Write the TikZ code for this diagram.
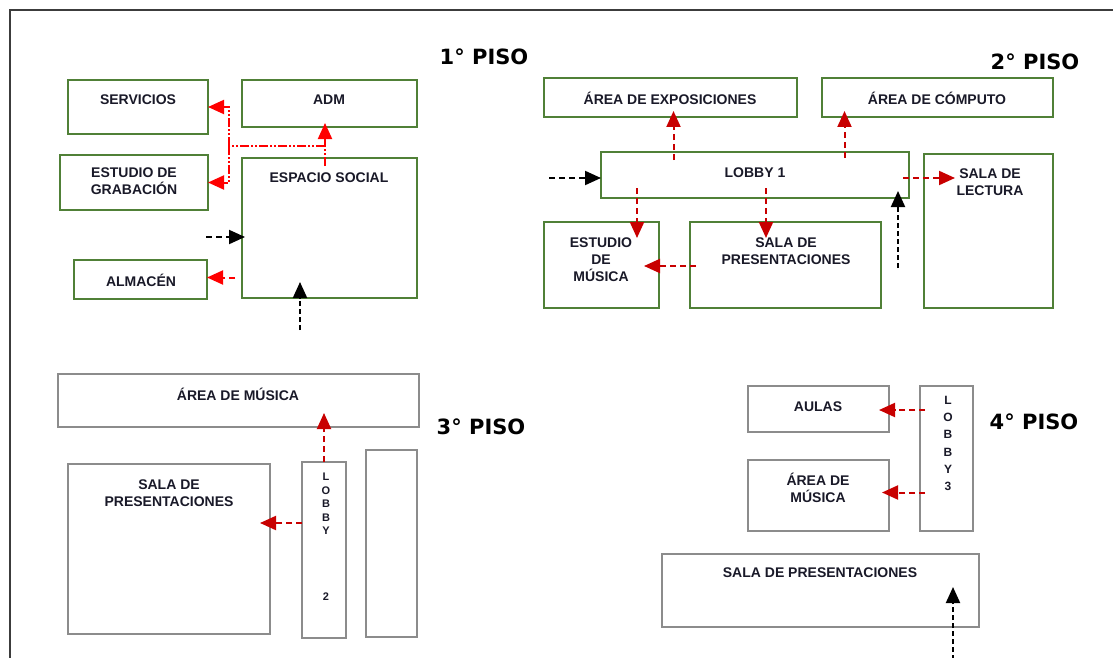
\documentclass[tikz,border=0pt]{standalone}
\usepackage{fontspec}
\setmainfont{Liberation Sans}
\newfontfamily\pisofont{DejaVu Sans}
\usetikzlibrary{arrows.meta,calc}
\definecolor{boxgreen}{RGB}{80,128,55}
\definecolor{boxgray}{RGB}{140,140,140}
\definecolor{arrred}{RGB}{255,0,0}
\definecolor{darkred}{RGB}{200,0,0}
\definecolor{framegray}{RGB}{60,60,60}
\definecolor{txt}{RGB}{25,25,40}
\begin{document}
\begin{tikzpicture}[x=1pt,y=-1pt,
  roomg/.style={draw=boxgreen,line width=1.8pt,inner sep=0pt,outer sep=0pt,anchor=north west},
  roomgr/.style={draw=boxgray,line width=1.8pt,inner sep=0pt,outer sep=0pt,anchor=north west},
  lbl/.style={font=\fontsize{14}{17}\selectfont\bfseries,align=center,inner sep=0pt,text=txt},
  piso/.style={font=\pisofont\fontsize{21}{25}\selectfont\bfseries,inner sep=0pt,text=black},
  lob/.style={font=\fontsize{11}{13.5}\selectfont\bfseries,align=center,inner sep=0pt,text=txt},
  lobb/.style={font=\fontsize{12}{17.2}\selectfont\bfseries,align=center,inner sep=0pt,text=txt},
  tip/.style={-{Triangle[length=16pt,width=14pt]}},
  rddline/.style={draw=arrred,line width=2pt,dash pattern=on 9pt off 2pt on 2pt off 2pt on 2pt off 2pt},
  rdd/.style={tip,rddline},
  rdb/.style={tip,draw=arrred,line width=2pt,dash pattern=on 6pt off 4pt},
  rd/.style={tip,draw=darkred,line width=2pt,dash pattern=on 6pt off 4pt},
  bk/.style={tip,draw=black,line width=2pt,dash pattern=on 6pt off 4pt},
  bkv/.style={tip,draw=black,line width=2pt,dash pattern=on 5pt off 3pt}
]
\useasboundingbox (0,0) rectangle (1113,658);
% frame
\draw[framegray,line width=2.5pt] (1125,10) -- (10,10) -- (10,670);

% ---------- 1 PISO ----------
\node[piso] (p1) at (484,57) {1° PISO};
\node[roomg,minimum width=140pt,minimum height=54pt] (serv) at (68,80) {};
\node[roomg,minimum width=175pt,minimum height=47pt] (adm) at (242,80) {};
\node[roomg,minimum width=148pt,minimum height=55pt] (grab) at (60,155) {};
\node[roomg,minimum width=175pt,minimum height=140pt] (social) at (242,158) {};
\node[roomg,minimum width=133pt,minimum height=39pt] (alm) at (74,260) {};
\node[lbl] (tserv) at (138,100) {SERVICIOS};
\node[lbl] (tadm) at (329,100) {ADM};
\node[lbl] (tgrab) at (134,181) {ESTUDIO DE\\GRABACIÓN};
\node[lbl] (tsocial) at (329,178) {ESPACIO SOCIAL};
\node[lbl] (talm) at (141,280) {ALMACÉN};

\coordinate (j1) at (325,146);
\coordinate (j2) at (229,146);
\draw[rdd] ($(j1 |- social.north)+(0,8)$) -- ($(j1 |- adm.south)+(0,-4)$);
\draw[rddline] (j1) -- (j2);
\draw[rdd] (j2) |- (serv.east);
\draw[rdd] (j2) |- (grab.east);
\coordinate (in1) at (206,237);
\draw[bk] (in1) -- ($(in1 -| social.west)+(3,0)$);
\draw[rdb] ($(alm.east)+(28,-2)$) -- ($(alm.east)+(0,-2)$);
\coordinate (in2) at (300,330);
\draw[bkv] (in2) -- ($(in2 |- social.south)+(0,-16)$);

% ---------- 2 PISO ----------
\node[piso] (p2) at (1035,62) {2° PISO};
\node[roomg,minimum width=253pt,minimum height=39pt] (expo) at (544,78) {};
\node[roomg,minimum width=231pt,minimum height=39pt] (comp) at (822,78) {};
\node[roomg,minimum width=308pt,minimum height=46pt] (lobby1) at (601,152) {};
\node[roomg,minimum width=129pt,minimum height=154pt] (lect) at (924,154) {};
\node[roomg,minimum width=115pt,minimum height=86pt] (estm) at (544,222) {};
\node[roomg,minimum width=191pt,minimum height=86pt] (pres2) at (690,222) {};
\node[lbl] (texpo) at (670,98) {ÁREA DE EXPOSICIONES};
\node[lbl] (tcomp) at (937,98) {ÁREA DE CÓMPUTO};
\node[lbl] (tlobby1) at (755,173) {LOBBY 1};
\node[lbl] (tlect) at (990,182) {SALA DE\\LECTURA};
\node[lbl] (testm) at (601,260) {ESTUDIO\\DE\\MÚSICA};
\node[lbl] (tpres2) at (786,251) {SALA DE\\PRESENTACIONES};

\draw[rd] ($(expo.south)+(3,43)$) -- ($(expo.south)+(3,-6)$);
\draw[rd] ($(comp.south)+(-93,41)$) -- ($(comp.south)+(-93,-6)$);
\coordinate (in3) at (549,178);
\draw[bk] (in3) -- (in3 -| lobby1.west);
\draw[rd] ($(lobby1.south west)+(36,-10)$) -- ($(estm.north west)+(93,16)$);
\draw[rd] ($(lobby1.south west)+(165,-10)$) -- ($(pres2.north west)+(76,16)$);
\draw[rd] ($(pres2.west)+(6,1)$) -- ($(estm.east)+(-15,1)$);
\draw[rd] ($(lobby1.east)+(-6,3)$) -- ($(lect.north west)+(31,24)$);
\coordinate (in4) at (898,268);
\draw[bkv] (in4) -- ($(in4 |- lobby1.south)+(0,-7)$);

% ---------- 3 PISO ----------
\node[piso] (p3) at (481,427) {3° PISO};
\node[roomgr,minimum width=361pt,minimum height=53pt] (musica3) at (58,374) {};
\node[roomgr,minimum width=202pt,minimum height=170pt] (pres3) at (68,464) {};
\node[roomgr,minimum width=44pt,minimum height=176pt] (lobby2) at (302,462) {};
\node[roomgr,minimum width=51pt,minimum height=187pt] (blank3) at (366,450) {};
\node[lbl] (tmus3) at (238,394) {ÁREA DE MÚSICA};
\node[lbl] (tpres3) at (169,493) {SALA DE\\PRESENTACIONES};
\node[lob,anchor=north] (tlobby2) at (326,473) {L\\O\\B\\B\\Y};
\node[lob] (tlobby2n) at (326,597) {2};

\draw[rd] (lobby2.north) -- ($(lobby2.north |- musica3.south)+(0,-14)$);
\coordinate (o3) at ($(lobby2.west)+(0,-27)$);
\draw[rd] (o3) -- ($(o3 -| pres3.east)+(-10,0)$);

% ---------- 4 PISO ----------
\node[piso] (p4) at (1034,422) {4° PISO};
\node[roomgr,minimum width=141pt,minimum height=46pt] (aulas) at (748,386) {};
\node[roomgr,minimum width=141pt,minimum height=71pt] (musica4) at (748,460) {};
\node[roomgr,minimum width=53pt,minimum height=145pt] (lobby3) at (920,386) {};
\node[roomgr,minimum width=317pt,minimum height=73pt] (pres4) at (662,554) {};
\node[lbl] (taulas) at (818,407) {AULAS};
\node[lbl] (tmus4) at (818,488) {ÁREA DE\\MÚSICA};
\node[lobb,anchor=north] (tlobby3) at (948,396) {L\\O\\B\\B\\Y\\3};
\node[lbl] (tpres4) at (820,573) {SALA DE PRESENTACIONES};

\draw[rd] ($(aulas.east -| lobby3.west)+(5,1)$) -- ($(aulas.east)+(-10,1)$);
\draw[rd] ($(musica4.east -| lobby3.west)+(5,-3)$) -- ($(musica4.east)+(-7,-3)$);
\coordinate (in5) at (953,660);
\draw[bkv] (in5) -- ($(in5 |- pres4.south)+(0,-40)$);
\end{tikzpicture}
\end{document}
